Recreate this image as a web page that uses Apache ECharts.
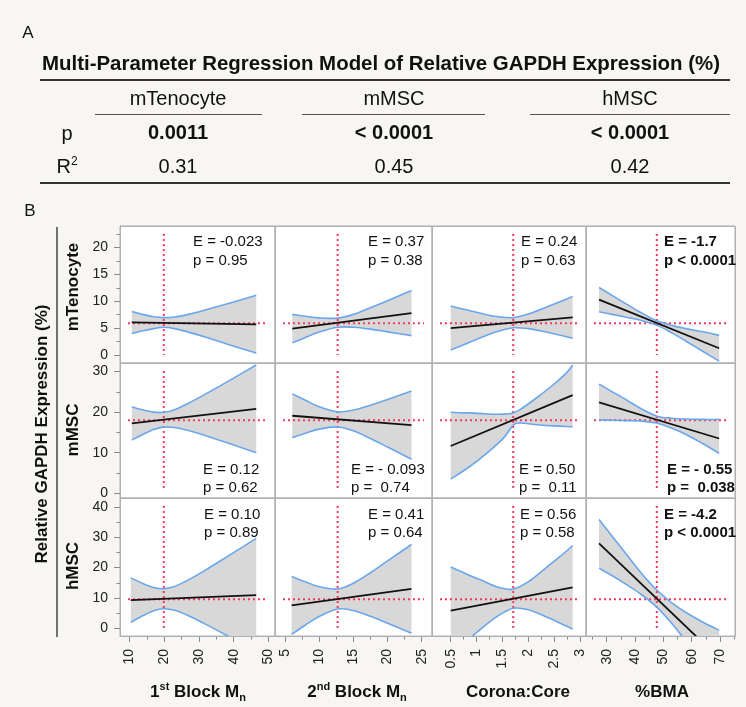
<!DOCTYPE html>
<html><head><meta charset="utf-8">
<script src="https://cdn.jsdelivr.net/npm/echarts@6/dist/echarts.min.js"></script>
<style>html,body{margin:0;padding:0;background:#f7f6f2}#c{width:746px;height:707px}</style>
</head><body><div id="c"></div><script>
// ---------------- DATA ----------------
const rowNames = ['mTenocyte', 'mMSC', 'hMSC'];
const yTitle = 'Relative GAPDH Expression (%)';
const refX = [19.9, 12.7, 1.71, 47.7];
const refY = [5.9, 18.0, 9.6];
const xTicks = [[10,20,30,40,50],[5,10,15,20,25],[0.5,1,1.5,2,2.5,3],[30,40,50,60,70]];
const xMinorTicks = [[15,25,35,45],[7.5,12.5,17.5,22.5],[0.75,1.25,1.75,2.25,2.75],[25,35,45,55,65,75]];
const yTicks = [[0,5,10,15,20],[0,10,20,30],[0,10,20,30,40]];
const yMinorTicks = [[2.5,7.5,12.5,17.5,22.5],[5,15,25],[5,15,25,35]];
const xRange = [[7.3,51.9],[3.54,26.5],[0.138,3.118],[22.7,75.3]];
const yRange = [[-1.5,24],[-1.16,32.1],[-2.53,42.9]];

// confidence band x positions, upper and lower limits, fit line endpoints [row][col]
const bandX = [
  [[10.7,14,17,19.9,23,27,32,38,46.5],[6.07,8,10,12.7,15,17.5,20,23.5],[0.5,0.8,1.1,1.4,1.71,2.0,2.3,2.6,2.86],[27.3,32,37,42,47.7,53,58,64,69.7]],
  [[10.7,14,17,19.9,23,27,32,38,46.5],[6.07,8,10,12.7,15,17.5,20,23.5],[0.5,0.87,1.2,1.52,1.71,1.84,2.17,2.49,2.75,2.86],[27.3,32,37,42,47.7,53,58,64,69.7]],
  [[10.4,14,17,19.9,23,27,32,38,46.5],[5.97,8,10,12.7,15,17.5,20,23.5],[0.5,0.8,1.1,1.4,1.71,2.0,2.3,2.6,2.86],[27.3,32,37,42,47.7,53,58,64,69.7]]
];
const bandUpper = [
  [[8.1,7.5,7.1,6.95,7.05,7.55,8.4,9.5,11.1],[7.55,7.2,6.9,6.85,7.55,8.8,10.1,12.0],[9.1,8.4,7.7,7.15,6.95,7.6,8.7,9.85,10.9],[12.55,11.05,9.45,7.9,6.35,5.5,4.9,4.3,3.65]],
  [[21.3,20.5,20.0,19.95,20.6,22.2,24.5,27.4,31.6],[24.5,22.9,21.3,20.05,20.5,21.7,23.1,25.2],[19.95,19.8,19.55,19.5,19.8,20.6,23.6,26.8,29.8,31.6],[26.9,25.0,23.0,20.9,19.0,18.5,18.3,18.2,18.2]],
  [[16.6,14.7,13.45,13.05,13.8,15.95,19.25,23.5,29.6],[17.1,15.3,13.7,12.95,14.85,18.3,22.2,27.6],[20.2,17.9,15.8,13.6,12.9,15.3,19.3,23.4,27.2],[35.8,30.2,24.3,18.4,12.6,8.4,5.2,2.0,-0.6]]
];
const bandLower = [
  [[4.0,4.5,4.9,5.15,4.9,4.25,3.3,2.05,0.35],[2.25,3.25,4.25,5.15,5.15,4.8,4.3,3.6],[0.9,2.1,3.3,4.35,5.05,4.9,4.35,3.7,3.1],[8.05,7.55,7.0,6.45,5.55,4.1,2.55,0.65,-1.15]],
  [[13.1,14.55,15.7,16.3,16.2,15.45,14.2,12.5,10.0],[13.7,14.8,15.8,16.35,15.4,13.5,11.4,8.4],[3.5,6.6,9.9,13.6,16.8,17.3,16.9,16.6,16.45,16.4],[18.05,18.0,17.9,17.8,17.3,16.0,14.5,12.2,9.85]],
  [[1.95,4.2,5.75,6.45,5.95,4.15,1.3,-2.35,-7.7],[-2.0,1.1,3.9,6.35,5.85,3.95,1.65,-1.6],[-8.6,-4.25,0.0,3.95,6.6,6.1,4.1,1.85,-0.2],[19.8,17.3,14.4,11.3,7.0,1.6,-4.2,-11.5,-18.5]]
];
const fitLine = [
  [[[10.7,6.05],[46.5,5.7]],[[6.07,4.9],[23.5,7.8]],[[0.5,5.0],[2.86,7.0]],[[27.3,10.3],[69.7,1.25]]],
  [[[10.7,17.2],[46.5,20.8]],[[6.07,19.1],[23.5,16.8]],[[0.5,11.65],[2.86,24.2]],[[27.3,22.4],[69.7,13.5]]],
  [[[10.4,9.3],[46.5,10.95]],[[5.97,7.55],[23.5,13.0]],[[0.5,5.8],[2.86,13.5]],[[27.3,27.95],[69.7,-9.87]]]
];
const annot = [
  [['E = -0.023','p = 0.95'],['E = 0.37','p = 0.38'],['E = 0.24','p = 0.63'],['E = -1.7','p < 0.0001']],
  [['E = 0.12','p = 0.62'],['E = - 0.093','p =  0.74'],['E = 0.50','p =  0.11'],['E = - 0.55','p =  0.038']],
  [['E = 0.10','p = 0.89'],['E = 0.41','p = 0.64'],['E = 0.56','p = 0.58'],['E = -4.2','p < 0.0001']]
];
const tableTitle = 'Multi-Parameter Regression Model of Relative GAPDH Expression (%)';
const tableCols = ['mTenocyte', 'mMSC', 'hMSC'];
const tableP = ['0.0011', '< 0.0001', '< 0.0001'];
const tableR2 = ['0.31', '0.45', '0.42'];

// ---------------- LAYOUT ----------------
const FF = '"Liberation Sans", Arial, Helvetica, sans-serif';
const colLeft = [120, 275, 432, 586], colRight = [275, 432, 586, 735];
const rowTop = [226, 363, 498], rowBottom = [363, 498, 636];
const annotX = [[193,368,521,664],[203,351,519,667],[204,368,520,664]];
const annotY = [[242,261],[470,488],[515,533]];
const BLUE = '#6aa6ec', FILL = '#d8d8d8', RED = '#f23a5e';

// smooth path through pixel points (Catmull-Rom -> cubic Bezier)
function curvePath(p, cmd) {
  const n = p.length, k = 1 / 6;
  let d = cmd + p[0][0].toFixed(2) + ' ' + p[0][1].toFixed(2);
  for (let i = 0; i < n - 1; i++) {
    const p0 = p[Math.max(i - 1, 0)], p1 = p[i], p2 = p[i + 1], p3 = p[Math.min(i + 2, n - 1)];
    const c1 = [p1[0] + (p2[0] - p0[0]) * k, p1[1] + (p2[1] - p0[1]) * k];
    const c2 = [p2[0] - (p3[0] - p1[0]) * k, p2[1] - (p3[1] - p1[1]) * k];
    d += ' C' + c1[0].toFixed(2) + ' ' + c1[1].toFixed(2) + ' ' + c2[0].toFixed(2) + ' ' + c2[1].toFixed(2) + ' ' + p2[0].toFixed(2) + ' ' + p2[1].toFixed(2);
  }
  return d;
}

function panelRenderer(r, c) {
  return function (params, api) {
    const X = bandX[r][c], U = bandUpper[r][c], L = bandLower[r][c];
    const up = X.map((x, i) => api.coord([x, U[i]]));
    const lo = X.map((x, i) => api.coord([x, L[i]]));
    const ref = api.coord([refX[c], refY[r]]);
    const cs = params.coordSys, pad = 8;
    const dot = {stroke: RED, lineWidth: 2, lineDash: [2, 3], fill: null};
    const fillD = curvePath(up, 'M') + ' ' + curvePath(lo.slice().reverse(), 'L') + ' Z';
    return {type: 'group', clipPath: {type: 'rect', shape: {x: cs.x, y: cs.y, width: cs.width, height: cs.height}},
      children: [
        {type: 'path', shape: {pathData: fillD}, style: {fill: FILL, stroke: null}},
        {type: 'line', shape: {x1: cs.x + pad, y1: ref[1], x2: cs.x + cs.width - pad, y2: ref[1]}, style: dot},
        {type: 'line', shape: {x1: ref[0], y1: cs.y + pad, x2: ref[0], y2: cs.y + cs.height - pad}, style: dot},
        {type: 'path', shape: {pathData: curvePath(up, 'M')}, style: {fill: null, stroke: BLUE, lineWidth: 1.6}},
        {type: 'path', shape: {pathData: curvePath(lo, 'M')}, style: {fill: null, stroke: BLUE, lineWidth: 1.6}}
      ]};
  };
}

const grids = [], xAxes = [], yAxes = [], series = [], graphics = [];
for (let r = 0; r < 3; r++) {
  for (let c = 0; c < 4; c++) {
    const g = grids.length;
    grids.push({left: colLeft[c], top: rowTop[r], width: colRight[c]-colLeft[c], height: rowBottom[r]-rowTop[r],
      show: true, backgroundColor: '#ffffff', borderColor: '#b0b0b0', borderWidth: 1});
    const xi = xAxes.length;
    xAxes.push({type: 'value', gridIndex: g, min: xRange[c][0], max: xRange[c][1], show: r === 2, position: 'bottom',
      axisLine: {show: r === 2, onZero: false, lineStyle: {color: '#a8a8a8'}},
      axisTick: {show: r === 2, customValues: xTicks[c], length: 6, lineStyle: {color: '#8a8a8a'}},
      axisLabel: {show: r === 2, customValues: xTicks[c], rotate: 90, margin: 13, fontSize: 14, color: '#222', fontFamily: FF},
      splitLine: {show: false}});
    if (r === 2) {
      xAxes.push({type: 'value', gridIndex: g, min: xRange[c][0], max: xRange[c][1], position: 'bottom',
        axisLine: {show: false, onZero: false}, axisTick: {show: true, customValues: xMinorTicks[c], length: 3.5, lineStyle: {color: '#8a8a8a'}},
        axisLabel: {show: false}, splitLine: {show: false}});
    }
    const yi = yAxes.length;
    yAxes.push({type: 'value', gridIndex: g, min: yRange[r][0], max: yRange[r][1], show: c === 0, position: 'left',
      axisLine: {show: c === 0, onZero: false, lineStyle: {color: '#a8a8a8'}},
      axisTick: {show: c === 0, customValues: yTicks[r], length: 6, lineStyle: {color: '#8a8a8a'}},
      axisLabel: {show: c === 0, customValues: yTicks[r], margin: 12, fontSize: 14, color: '#222', fontFamily: FF},
      splitLine: {show: false}});
    if (c === 0) {
      yAxes.push({type: 'value', gridIndex: g, min: yRange[r][0], max: yRange[r][1], position: 'left',
        axisLine: {show: false, onZero: false}, axisTick: {show: true, customValues: yMinorTicks[r], length: 3.5, lineStyle: {color: '#8a8a8a'}},
        axisLabel: {show: false}, splitLine: {show: false}});
    }
    series.push({type: 'custom', xAxisIndex: xi, yAxisIndex: yi, silent: true, animation: false, z: 2,
      data: [[refX[c], refY[r]]], renderItem: panelRenderer(r, c)});
    series.push({type: 'line', xAxisIndex: xi, yAxisIndex: yi, symbol: 'none', silent: true, animation: false,
      data: fitLine[r][c], lineStyle: {color: '#111', width: 1.8}, z: 5});

    // panel border on top
    graphics.push({type: 'rect', z: 90, silent: true,
      shape: {x: colLeft[c] + 0.5, y: rowTop[r] + 0.5, width: colRight[c]-colLeft[c], height: rowBottom[r]-rowTop[r]},
      style: {fill: 'none', stroke: '#b0b0b0', lineWidth: 1}});

    // annotations
    const bold = c === 3;
    annot[r][c].forEach((t, k) => {
      graphics.push({type: 'text', x: annotX[r][c], y: annotY[r][k], z: 100,
        style: {text: t, fill: '#111', fontSize: 15, fontWeight: bold ? 'bold' : 'normal', fontFamily: FF, align: 'left', verticalAlign: 'middle'}});
    });
  }
}

// row labels and y title
const rowLabelY = [287, 430, 566];
rowNames.forEach((n, r) => graphics.push({type: 'text', x: 73, y: rowLabelY[r], rotation: Math.PI/2,
  style: {text: n, fill: '#111', fontSize: 17, fontWeight: 'bold', fontFamily: FF, align: 'center', verticalAlign: 'middle'}}));
graphics.push({type: 'text', x: 42, y: 434, rotation: Math.PI/2,
  style: {text: yTitle, fill: '#111', fontSize: 17, fontWeight: 'bold', fontFamily: FF, align: 'center', verticalAlign: 'middle'}});
graphics.push({type: 'line', shape: {x1: 57, y1: 227, x2: 57, y2: 637}, style: {stroke: '#444', lineWidth: 1.5}});

// x titles
const xTitleRich = {
  b: {fontSize: 17, fontWeight: 'bold', fontFamily: FF, fill: '#111', lineHeight: 22},
  sup: {fontSize: 11, fontWeight: 'bold', fontFamily: FF, fill: '#111', verticalAlign: 'top', lineHeight: 13},
  sub: {fontSize: 11, fontWeight: 'bold', fontFamily: FF, fill: '#111', verticalAlign: 'bottom', lineHeight: 13}
};
const xTitles = ['{b|1}{sup|st}{b| Block M}{sub|n}', '{b|2}{sup|nd}{b| Block M}{sub|n}', '{b|Corona:Core}', '{b|%BMA}'];
const xTitleX = [198, 357, 518, 662];
xTitles.forEach((t, c) => graphics.push({type: 'text', x: xTitleX[c], y: 692,
  style: {text: t, rich: xTitleRich, align: 'center', verticalAlign: 'middle'}}));

// panel letters
graphics.push({type: 'text', x: 28, y: 33, style: {text: 'A', fill: '#111', fontSize: 17, fontFamily: FF, align: 'center', verticalAlign: 'middle'}});
graphics.push({type: 'text', x: 30, y: 211, style: {text: 'B', fill: '#111', fontSize: 17, fontFamily: FF, align: 'center', verticalAlign: 'middle'}});

// table
const ctx = document.createElement('canvas').getContext('2d');
ctx.font = 'bold 21px "Liberation Sans"';
const tw = ctx.measureText(tableTitle).width;
const sx = 678 / tw;
graphics.push({type: 'text', x: 42, y: 64, scaleX: sx,
  style: {text: tableTitle, fill: '#111', fontSize: 21, fontWeight: 'bold', fontFamily: FF, align: 'left', verticalAlign: 'middle'}});
graphics.push({type: 'line', shape: {x1: 40, y1: 80, x2: 730, y2: 80}, style: {stroke: '#333', lineWidth: 2}});
graphics.push({type: 'line', shape: {x1: 40, y1: 183, x2: 730, y2: 183}, style: {stroke: '#333', lineWidth: 2}});
const tColX = [178, 394, 630];
const tUnder = [[95, 262], [302, 485], [530, 730]];
tableCols.forEach((n, i) => {
  graphics.push({type: 'text', x: tColX[i], y: 99, style: {text: n, fill: '#111', fontSize: 20, fontFamily: FF, align: 'center', verticalAlign: 'middle'}});
  graphics.push({type: 'line', shape: {x1: tUnder[i][0], y1: 114.5, x2: tUnder[i][1], y2: 114.5}, style: {stroke: '#555', lineWidth: 1.2}});
  graphics.push({type: 'text', x: tColX[i], y: 133, style: {text: tableP[i], fill: '#111', fontSize: 20, fontWeight: 'bold', fontFamily: FF, align: 'center', verticalAlign: 'middle'}});
  graphics.push({type: 'text', x: tColX[i], y: 167, style: {text: tableR2[i], fill: '#111', fontSize: 20, fontFamily: FF, align: 'center', verticalAlign: 'middle'}});
});
graphics.push({type: 'text', x: 67, y: 134, style: {text: 'p', fill: '#111', fontSize: 20, fontFamily: FF, align: 'center', verticalAlign: 'middle'}});
graphics.push({type: 'text', x: 67, y: 167, style: {text: '{a|R}{s|2}', align: 'center', verticalAlign: 'middle',
  rich: {a: {fontSize: 20, fontFamily: FF, fill: '#111', lineHeight: 22}, s: {fontSize: 12, fontFamily: FF, fill: '#111', verticalAlign: 'top', lineHeight: 13}}}});

const chart = echarts.init(document.getElementById('c'), null, {renderer: 'canvas'});
chart.setOption({
  backgroundColor: '#f7f6f2',
  animation: false,
  grid: grids, xAxis: xAxes, yAxis: yAxes, series: series,
  graphic: {elements: graphics}
});
</script></body></html>
